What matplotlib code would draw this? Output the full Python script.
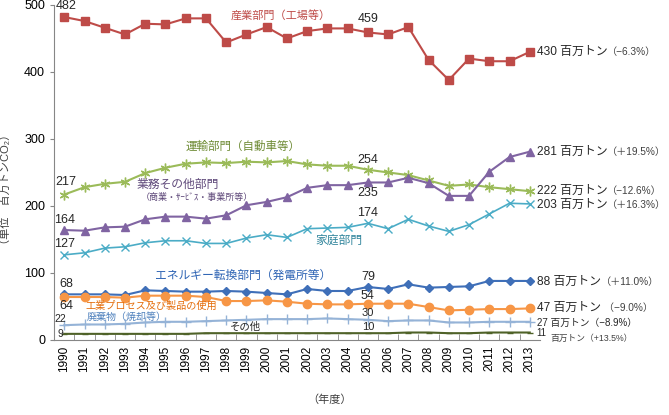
import matplotlib.pyplot as plt

plt.rcParams['font.family'] = ['Liberation Sans', 'Noto Sans CJK JP', 'DejaVu Sans']

# Data (million t-CO2, fiscal years 1990-2013)
years = list(range(1990, 2014))
industry = [482, 476, 466, 456, 472, 471, 480, 480, 444, 456, 467, 450,
            461, 465, 465, 459, 456, 467, 418, 388, 420, 416, 416, 430]
transport = [217, 228, 233, 236, 249, 257, 263, 265, 264, 266, 265, 267,
             262, 260, 260, 254, 250, 246, 238, 230, 232, 228, 225, 222]
commercial = [164, 163, 168, 169, 180, 184, 184, 181, 186, 201, 206, 213,
              227, 231, 231, 235, 235, 242, 234, 215, 215, 251, 273, 281]
residential = [127, 130, 137, 139, 145, 148, 148, 144, 144, 152, 157, 153,
               166, 167, 168, 174, 166, 180, 170, 162, 172, 188, 204, 203]
energy = [68, 68, 68, 67, 74, 73, 72, 72, 73, 72, 70, 68,
          76, 73, 73, 79, 76, 83, 78, 79, 80, 88, 88, 88]
process = [64, 64, 64, 63, 66, 66, 66, 64, 58, 58, 59, 57,
           54, 53, 53, 54, 54, 54, 49, 44, 45, 46, 46, 47]
waste = [22, 23, 23, 24, 26, 27, 27, 28, 29, 30, 31, 31,
         31, 32, 31, 30, 28, 29, 29, 26, 26, 27, 27, 27]
other = [9, 9, 9, 9, 9, 9, 9, 10, 10, 10, 10, 10,
         10, 10, 10, 10, 10, 11, 11, 10, 10, 11, 11, 11]

fig = plt.figure(figsize=(6.69, 4.15), dpi=100)
ax = fig.add_axes([0.081, 0.181, 0.726, 0.807])

ax.plot(years, industry, color='#BE4B48', marker='s', ms=5.5, lw=1.5)
ax.plot(years, transport, color='#9BBB59', marker=(6, 2, 0), ms=7, mew=1, lw=1.5)
ax.plot(years, commercial, color='#8064A2', marker='^', ms=6, lw=1.5)
ax.plot(years, residential, color='#4BACC6', marker='x', ms=6, mew=1, lw=1.2)
ax.plot(years, energy, color='#3F6FB8', marker='D', ms=4.5, lw=1.5)
ax.plot(years, process, color='#F79646', marker='o', ms=6, lw=1.5)
ax.plot(years, waste, color='#95B3D7', marker='+', ms=7, mew=1, lw=1.5)
ax.plot(years, other, color='#4F6228', marker='_', ms=4, lw=1.5)

ax.set_xlim(1989.5, 2013.5)
ax.set_ylim(0, 500)
ax.set_yticks([0, 100, 200, 300, 400, 500])
ax.set_xticks(years)
ax.set_xticklabels([str(y) for y in years], rotation=90, fontsize=8.5)
ax.set_xticks([y + 0.5 for y in years[:-1]] + [1989.5], minor=True)
ax.tick_params(axis='x', which='major', length=0, pad=4)
ax.tick_params(axis='x', which='minor', direction='in', length=4, color='#868686')
ax.tick_params(axis='y', length=3, color='#868686', labelsize=9)
for s in ['top', 'right']:
    ax.spines[s].set_visible(False)
for s in ['left', 'bottom']:
    ax.spines[s].set_color('#868686')

ax.set_ylabel('（単位　百万トンCO₂）', fontsize=8, color='#404040')
ax.yaxis.set_label_coords(-0.09, 0.45)
fig.text(330 / 669, 1 - 400 / 415, '（年度）', fontsize=8, ha='center', va='center',
         color='#404040')

# start / 2005 values
num = dict(fontsize=9, color='#262626', va='center')
ax.text(1989.55, 498, '482', **num)
ax.text(1989.55, 235, '217', **num)
ax.text(1989.5, 179, '164', **num)
ax.text(1989.5, 143, '127', **num)
ax.text(1989.75, 84, '68', **num)
ax.text(1989.75, 50, '64', **num)
ax.text(1989.5, 31, '22', fontsize=7.5, color='#262626', va='center')
ax.text(1989.65, 9, '9', fontsize=7.5, color='#262626', va='center')
ax.text(2005, 479, '459', ha='center', **num)
ax.text(2005, 269, '254', ha='center', **num)
ax.text(2005, 219, '235', ha='center', **num)
ax.text(2005, 189, '174', ha='center', **num)
ax.text(2005, 94, '79', ha='center', **num)
ax.text(2005, 65, '54', ha='center', **num)
ax.text(2005, 40, '30', ha='center', fontsize=8, color='#262626', va='center')
ax.text(2005, 19, '10', ha='center', fontsize=8, color='#262626', va='center')

# series names
ax.text(1998.2, 485, '産業部門（工場等）', fontsize=8, color='#BE4B48', va='center')
ax.text(1996.0, 288, '運輸部門（自動車等）', fontsize=8.3, color='#6E8B35', va='center')
ax.text(1993.55, 232, '業務その他部門', fontsize=8.5, color='#604A7B', va='center')
ax.text(1993.8, 213, '（商業・ｻｰﾋﾞｽ・事業所等）', fontsize=6.5, color='#604A7B', va='center')
ax.text(2002.4, 148, '家庭部門', fontsize=8.5, color='#31859C', va='center')
ax.text(1994.5, 96, 'エネルギー転換部門（発電所等）', fontsize=8.5, color='#2E64B4', va='center')
ax.text(1991.05, 51, '工業プロセス及び製品の使用', fontsize=7.3, color='#E46C0A', va='center')
ax.text(1991.1, 35, '廃棄物（焼却等）', fontsize=7.2, color='#4F81BD', va='center')
ax.text(1998.2, 19, 'その他', fontsize=7.5, color='#262626', va='center')

# end labels
ends = [(430, '430 百万トン', '（−6.3%）'),
        (281, '281 百万トン', '（＋19.5%）'),
        (222, '222 百万トン', '（−12.6%）'),
        (201, '203 百万トン', '（＋16.3%）'),
        (87, '88 百万トン', '（＋11.0%）'),
        (48, '47 百万トン', ' （−9.0%）')]
for yv, main, pct in ends:
    t = ax.text(2013.35, yv, main, fontsize=8.6, color='#262626', va='center')
    ax.annotate(pct, xy=(1, 0.5), xycoords=t, va='center', fontsize=7.3,
                color='#404040')
ax.text(2013.35, 25, '27 百万トン（−8.9%）', fontsize=7, color='#262626', va='center')
ax.text(2013.3, 10.5, '11', fontsize=7, color='#262626', va='center')
ax.text(2014.0, 2, '百万トン（+13.5%）', fontsize=6.3, color='#404040', va='center')

fig.savefig('out.png', dpi=100)
